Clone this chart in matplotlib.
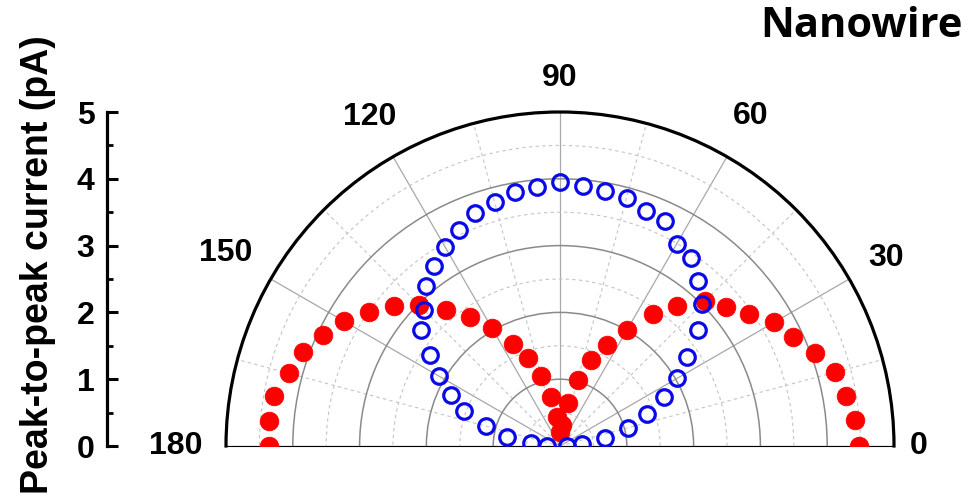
import numpy as np
import matplotlib
matplotlib.use("Agg")
import matplotlib.pyplot as plt
from matplotlib.patches import Rectangle
from matplotlib.ticker import MultipleLocator

# Polarization angle (degrees) and peak-to-peak current (pA)
angles_deg = list(range(0, 181, 5))
red_current = [4.48, 4.43, 4.34, 4.26, 4.07, 3.85, 3.70, 3.45, 3.24, 3.08,
               2.73, 2.42, 2.01, 1.67, 1.37, 1.02, 0.66, 0.32, 0.21,
               0.44, 0.74, 1.09, 1.40, 1.68, 2.04, 2.35, 2.65, 2.99, 3.25,
               3.49, 3.73, 3.92, 4.10, 4.20, 4.34, 4.37, 4.36]
blue_current = [0.10, 0.33, 0.68, 1.06, 1.38, 1.72, 2.03, 2.33, 2.70, 3.01,
                3.22, 3.43, 3.50, 3.72, 3.75, 3.85, 3.88, 3.90, 3.95,
                3.89, 3.86, 3.78, 3.71, 3.57, 3.44, 3.29, 3.12, 2.87, 2.71,
                2.38, 2.09, 1.80, 1.53, 1.14, 0.80, 0.44, 0.20]
angle_ticks = [0, 30, 60, 90, 120, 150, 180]
angle_labels = ["0", "30", "60", "90", "120", "150", "180"]
current_ticks = [0, 1, 2, 3, 4, 5]
title = "Nanowire"
ylabel = "Peak-to-peak current (pA)"

plt.rcParams["font.family"] = ["Liberation Sans", "DejaVu Sans"]
plt.rcParams["font.weight"] = "bold"

W, H = 971, 496
fig = plt.figure(figsize=(W / 100, H / 100), dpi=100)
fig.patch.set_facecolor("white")

# Half-disc polar panel: the wedge is centred inside a square axes box,
# so the box is placed so that the wedge's flat edge sits at cy.
cx, cy, R = 560, 446, 334
ax = fig.add_axes([(cx - R) / W, (H - (cy + 0.5 * R)) / H, 2 * R / W, 2 * R / H],
                  projection="polar")
ax.set_thetamin(0)
ax.set_thetamax(180)
ax.set_ylim(0, 5)

ax.set_xticks(np.deg2rad(angle_ticks))
ax.set_xticklabels([])
ax.set_xticks(np.deg2rad(np.arange(15, 180, 30)), minor=True)
ax.set_yticks([1, 2, 3, 4])
ax.set_yticks(np.arange(0.5, 5.0, 1.0), minor=True)
ax.set_yticklabels([])
ax.tick_params(axis="y", which="both", length=0)
ax.tick_params(axis="x", which="major", direction="in", length=8.5,
               width=2.0, color="black")
ax.tick_params(axis="x", which="minor", direction="in", length=4.5,
               width=1.6, color="black")

ax.xaxis.grid(True, which="major", color="#a8a8a8", lw=0.9, ls="-")
ax.xaxis.grid(True, which="minor", color="#c4c4c4", lw=0.8, ls=(0, (3, 3)))
ax.yaxis.grid(True, which="major", color="#8a8a8a", lw=1.1, ls="-")
ax.yaxis.grid(True, which="minor", color="#c4c4c4", lw=0.8, ls=(0, (3, 3)))

ax.spines["polar"].set_linewidth(2.3)
ax.spines["polar"].set_color("black")
for name in ("start", "end", "inner"):
    ax.spines[name].set_visible(False)

# markers are cut off at the flat edge of the half disc
above_base = Rectangle((0, (H - cy) / H), 1, 1, transform=fig.transFigure)

theta = np.deg2rad(angles_deg)
red_line, = ax.plot(theta, red_current, ls="none", marker="o", ms=13.5,
                    mfc="#ff0000", mec="#ff0000", mew=0.5, zorder=3)
blue_line, = ax.plot(theta, blue_current, ls="none", marker="o", ms=11.2,
                     mfc="none", mec="#0a0ae8", mew=2.3, zorder=4)
red_line.set_clip_path(above_base)
blue_line.set_clip_path(above_base)

# Angle labels around the rim
label_r = [5.37, 5.63, 5.70, 5.51, 5.69, 5.78, 5.75]
for ang, lab, r in zip(angle_ticks, angle_labels, label_r):
    ax.text(np.deg2rad(ang), r, lab, ha="center", va="center",
            fontsize=23, fontweight="bold", clip_on=False)

# Stand-alone radial scale on the left
yax = fig.add_axes([107 / W, (H - cy) / H, 0.05, R / H])
yax.set_ylim(0, 5)
yax.patch.set_visible(False)
for s in ("top", "right", "bottom"):
    yax.spines[s].set_visible(False)
yax.spines["left"].set_linewidth(2.3)
yax.set_xticks([])
yax.set_yticks(current_ticks)
yax.yaxis.set_minor_locator(MultipleLocator(0.5))
yax.tick_params(axis="y", which="major", direction="in", length=8,
                width=2.2, pad=9, labelsize=23)
yax.tick_params(axis="y", which="minor", direction="in", length=4.5,
                width=2.0)
for t in yax.get_yticklabels():
    t.set_fontweight("bold")

fig.text(38 / W, 1 - 265 / H, ylabel, rotation=90, ha="center",
         va="center", fontsize=27, fontweight="bold")
fig.text(963 / W, 1 - 37 / H, title, ha="right", va="baseline",
         fontsize=30, fontweight="bold", family=["Open Sans", "DejaVu Sans"])

fig.savefig("out.png", dpi=100, facecolor="white")
